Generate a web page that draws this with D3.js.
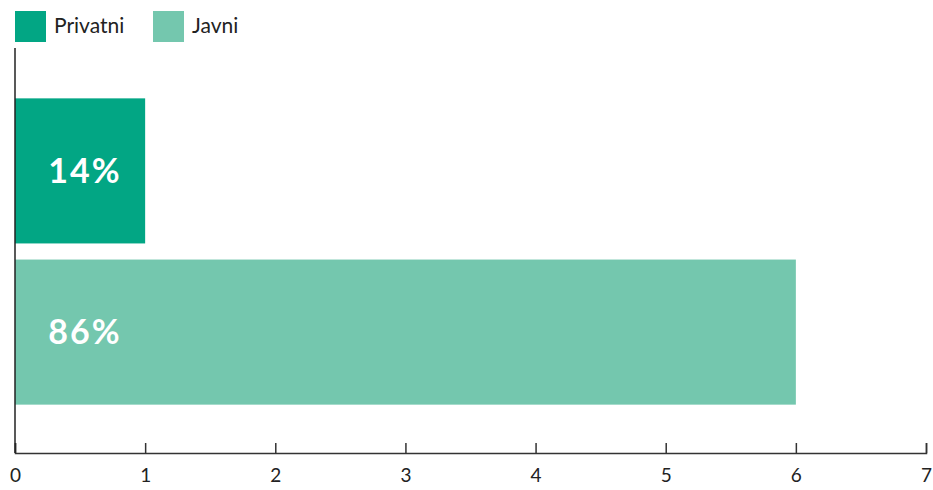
<!DOCTYPE html>
<html>
<head>
<meta charset="utf-8">
<script src="https://cdn.jsdelivr.net/npm/d3@7"></script>
<style>
  html, body { margin: 0; padding: 0; background: #fff; }
  svg { display: block; font-family: Lato, "Open Sans", sans-serif; }
</style>
</head>
<body>
<svg id="chart" width="933" height="490"></svg>
<script>
const categories = ["Privatni", "Javni"];
const values = [1, 6];
const percentLabels = ["14%", "86%"];
const colors = ["#02a684", "#74c7ae"];
const xTicks = [0, 1, 2, 3, 4, 5, 6, 7];

const svg = d3.select("#chart");
const x = d3.scaleLinear().domain([0, 7]).range([15, 926]);
const y = d3.scaleBand().domain(categories).range([50, 453]).paddingInner(0.1).paddingOuter(0.3);

// legend
const legend = svg.append("g");
const legendX = [15, 153];
categories.forEach((c, i) => {
  legend.append("rect").attr("x", legendX[i]).attr("y", 11).attr("width", 31).attr("height", 31).attr("fill", colors[i]);
  legend.append("text").attr("x", legendX[i] + 39).attr("y", 33).attr("font-size", 21).attr("fill", "#222").text(c);
});

// bars
svg.append("g").selectAll("rect").data(categories).join("rect")
  .attr("x", x(0))
  .attr("y", d => y(d))
  .attr("width", (d, i) => x(values[i]) - x(0))
  .attr("height", y.bandwidth())
  .attr("fill", (d, i) => colors[i]);

svg.append("g").selectAll("text").data(categories).join("text")
  .attr("x", 85)
  .attr("y", d => y(d) + y.bandwidth() / 2)
  .attr("dy", "0.36em")
  .attr("text-anchor", "middle")
  .attr("font-size", 34)
  .attr("font-weight", "bold")
  .attr("letter-spacing", 2)
  .attr("fill", "#fff")
  .text((d, i) => percentLabels[i]);

// x axis
const xAxis = svg.append("g").attr("transform", "translate(0,453)")
  .call(d3.axisBottom(x).tickValues(xTicks).tickSize(-10).tickPadding(16).tickFormat(d3.format("d")));
xAxis.select(".domain").attr("stroke", "#333").attr("stroke-width", 1.5);
xAxis.selectAll(".tick line").attr("stroke", "#333").attr("stroke-width", 1.5);
xAxis.selectAll(".tick text").attr("font-size", 19).attr("fill", "#222").attr("font-family", "Lato, sans-serif");

// y axis line
svg.append("line").attr("x1", x(0)).attr("x2", x(0)).attr("y1", 48).attr("y2", 453)
  .attr("stroke", "#222").attr("stroke-width", 1.5);
</script>
</body>
</html>
